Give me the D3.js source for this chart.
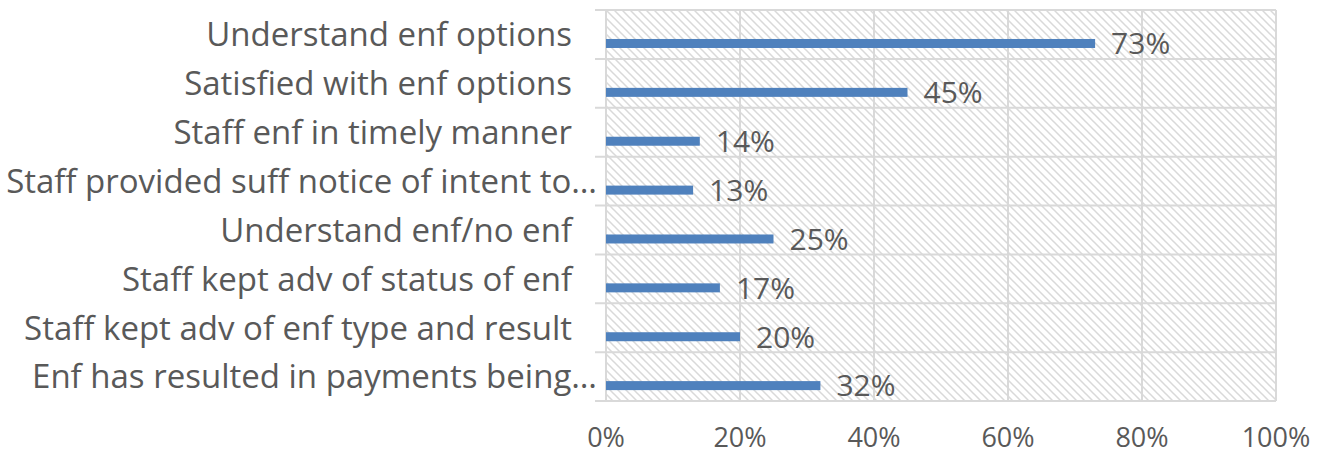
<!DOCTYPE html>
<html>
<head>
<meta charset="utf-8">
<script src="https://cdn.jsdelivr.net/npm/d3@7"></script>
<style>
  html, body { margin: 0; padding: 0; background: #fff; }
  svg { display: block; }
  text { font-family: "Open Sans", Lato, sans-serif; fill: #595959; }
</style>
</head>
<body>
<svg id="chart" width="1323" height="456"></svg>
<script>
// Survey items, top to bottom
const categories = [
  "Understand enf options",
  "Satisfied with enf options",
  "Staff enf in timely manner",
  "Staff provided suff notice of intent to…",
  "Understand enf/no enf",
  "Staff kept adv of status of enf",
  "Staff kept adv of enf type and result",
  "Enf has resulted in payments being…"
];
// Share of respondents agreeing (%)
const values = [73, 45, 14, 13, 25, 17, 20, 32];
const xTicks = [0, 20, 40, 60, 80, 100];

const svg = d3.select("#chart");
const margin = { top: 10, right: 47, bottom: 55, left: 606 };
const W = 1323, H = 456;
const plotW = W - margin.left - margin.right;
const plotH = H - margin.top - margin.bottom;

const x = d3.scaleLinear().domain([0, 100]).range([0, plotW]);
const y = d3.scaleBand().domain(categories).range([0, plotH]);

// Diagonal hatch for the plot background
const defs = svg.append("defs");
const pat = defs.append("pattern")
  .attr("id", "hatch").attr("patternUnits", "userSpaceOnUse")
  .attr("width", 8).attr("height", 8);
pat.append("rect").attr("width", 8).attr("height", 8).attr("fill", "#fff");
pat.append("path")
  .attr("d", "M-2,-2 L10,10 M-2,6 L2,10 M6,-2 L10,2")
  .attr("stroke", "#d9d9d9").attr("stroke-width", 1.5);

const g = svg.append("g").attr("transform", `translate(${margin.left},${margin.top})`);

g.append("rect").attr("width", plotW).attr("height", plotH).attr("fill", "url(#hatch)");

// Vertical gridlines
g.append("g").selectAll("line").data(xTicks).join("line")
  .attr("x1", d => x(d)).attr("x2", d => x(d))
  .attr("y1", 0).attr("y2", plotH)
  .attr("stroke", "#d9d9d9").attr("stroke-width", 2);

// Category boundaries with outside tick marks
const bounds = categories.map(c => y(c)).concat([plotH]);
g.append("g").selectAll("line").data(bounds).join("line")
  .attr("x1", -11).attr("x2", plotW)
  .attr("y1", d => d).attr("y2", d => d)
  .attr("stroke", "#d9d9d9").attr("stroke-width", 2);

// Bars
const barH = 9;
const barOff = y.bandwidth() * 0.685 - barH / 2;
g.append("g").selectAll("rect").data(values).join("rect")
  .attr("x", 0)
  .attr("y", (d, i) => y(categories[i]) + barOff)
  .attr("width", d => x(d))
  .attr("height", barH)
  .attr("fill", "#4f81bd");

// Value labels
g.append("g").selectAll("text").data(values).join("text")
  .attr("x", d => x(d) + 16)
  .attr("y", (d, i) => y(categories[i]) + barOff + barH / 2)
  .attr("dy", "0.36em")
  .attr("font-size", 30)
  .text(d => d + "%");

// Category labels
g.append("g").selectAll("text").data(categories).join("text")
  .attr("x", d => d.endsWith("…") ? -9 : -34)
  .attr("y", d => y(d) + y.bandwidth() / 2)
  .attr("dy", "0.36em")
  .attr("text-anchor", "end")
  .attr("font-size", 33)
  .text(d => d);

// X axis labels
g.append("g").selectAll("text").data(xTicks).join("text")
  .attr("x", d => x(d))
  .attr("y", plotH + 46)
  .attr("text-anchor", "middle")
  .attr("font-size", 27)
  .text(d => d + "%");
</script>
</body>
</html>
